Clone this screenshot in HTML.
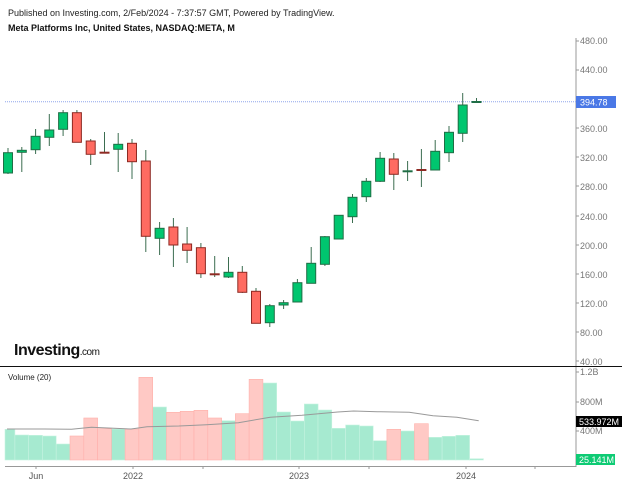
<!DOCTYPE html>
<html><head><meta charset="utf-8"><style>
html,body{margin:0;padding:0;background:#fff;width:622px;height:486px;overflow:hidden}
svg{display:block;font-family:"Liberation Sans",sans-serif}
</style></head><body>
<svg width="622" height="486" viewBox="0 0 622 486" xmlns="http://www.w3.org/2000/svg">
<text x="8" y="16" font-size="9" fill="#222">Published on Investing.com, 2/Feb/2024 - 7:37:57 GMT, Powered by TradingView.</text>
<text x="8" y="31" font-size="9" font-weight="bold" fill="#111">Meta Platforms Inc, United States, NASDAQ:META, M</text>
<!-- axes -->
<line x1="576" y1="38" x2="576" y2="467" stroke="#999" stroke-width="1"/>
<line x1="0" y1="366.5" x2="622" y2="366.5" stroke="#111" stroke-width="1"/>
<line x1="5" y1="466.5" x2="576" y2="466.5" stroke="#999" stroke-width="1"/>
<g font-size="9" fill="#777">
<text x="580" y="44">480.00</text><text x="580" y="73">440.00</text>
<text x="580" y="132">360.00</text><text x="580" y="161">320.00</text><text x="580" y="190">280.00</text>
<text x="580" y="220">240.00</text><text x="580" y="249">200.00</text><text x="580" y="278">160.00</text>
<text x="580" y="307">120.00</text><text x="580" y="336">80.00</text><text x="580" y="365">40.00</text>
<text x="580" y="375">1.2B</text><text x="580" y="405">800M</text><text x="580" y="434">400M</text>
</g>
<g stroke="#999"><line x1="576" y1="41" x2="579" y2="41"/><line x1="576" y1="70" x2="579" y2="70"/><line x1="576" y1="128" x2="579" y2="128"/><line x1="576" y1="157" x2="579" y2="157"/><line x1="576" y1="186" x2="579" y2="186"/><line x1="576" y1="216" x2="579" y2="216"/><line x1="576" y1="245" x2="579" y2="245"/><line x1="576" y1="274" x2="579" y2="274"/><line x1="576" y1="303" x2="579" y2="303"/><line x1="576" y1="332" x2="579" y2="332"/><line x1="576" y1="361" x2="579" y2="361"/><line x1="576" y1="372" x2="579" y2="372"/><line x1="576" y1="402" x2="579" y2="402"/><line x1="576" y1="431" x2="579" y2="431"/>
<line x1="36" y1="466" x2="36" y2="469"/><line x1="133" y1="466" x2="133" y2="469"/><line x1="203" y1="466" x2="203" y2="469"/><line x1="299" y1="466" x2="299" y2="469"/><line x1="369" y1="466" x2="369" y2="469"/><line x1="466" y1="466" x2="466" y2="469"/><line x1="535" y1="466" x2="535" y2="469"/></g>
<g font-size="9" fill="#555" text-anchor="middle"><text x="36" y="479">Jun</text><text x="133" y="479">2022</text><text x="299" y="479">2023</text><text x="466" y="479">2024</text></g>
<line x1="5" y1="101.7" x2="576" y2="101.7" stroke="#8fa6ec" stroke-width="1" stroke-dasharray="1,1"/>
<!-- candles -->
<g stroke="#3b6d50" stroke-width="1">
<line x1="8" y1="148" x2="8" y2="174"/><line x1="21.8" y1="147" x2="21.8" y2="172"/><line x1="35.6" y1="129" x2="35.6" y2="154"/><line x1="49.3" y1="114" x2="49.3" y2="146"/><line x1="63.1" y1="110" x2="63.1" y2="136"/><line x1="76.9" y1="110" x2="76.9" y2="142"/><line x1="90.7" y1="139" x2="90.7" y2="165"/><line x1="104.5" y1="132" x2="104.5" y2="153"/><line x1="118.2" y1="133" x2="118.2" y2="172"/><line x1="132" y1="139" x2="132" y2="179"/><line x1="145.8" y1="150" x2="145.8" y2="252"/><line x1="159.6" y1="222" x2="159.6" y2="255"/><line x1="173.4" y1="218" x2="173.4" y2="267"/><line x1="187.1" y1="227" x2="187.1" y2="263"/><line x1="200.9" y1="243" x2="200.9" y2="278"/><line x1="214.7" y1="256" x2="214.7" y2="277"/><line x1="228.5" y1="257" x2="228.5" y2="278"/><line x1="242.3" y1="266" x2="242.3" y2="293"/><line x1="256" y1="288" x2="256" y2="323"/><line x1="269.8" y1="304" x2="269.8" y2="327"/><line x1="283.6" y1="300" x2="283.6" y2="309"/><line x1="297.4" y1="279" x2="297.4" y2="302"/><line x1="311.2" y1="247" x2="311.2" y2="283"/><line x1="324.9" y1="236" x2="324.9" y2="266"/><line x1="338.7" y1="215" x2="338.7" y2="239"/><line x1="352.5" y1="194" x2="352.5" y2="223"/><line x1="366.3" y1="178" x2="366.3" y2="202"/><line x1="380.1" y1="152" x2="380.1" y2="182"/><line x1="393.8" y1="153" x2="393.8" y2="190"/><line x1="407.6" y1="161" x2="407.6" y2="181"/><line x1="421.4" y1="149" x2="421.4" y2="187"/><line x1="435.2" y1="140" x2="435.2" y2="170"/><line x1="449" y1="126" x2="449" y2="162"/><line x1="462.7" y1="93" x2="462.7" y2="142"/><line x1="476.5" y1="98" x2="476.5" y2="102"/>
</g>
<g fill="#00c66f" stroke="#1f6e45" stroke-width="1">
<rect x="3.5" y="152.7" width="9" height="20.3"/><rect x="17.3" y="150.3" width="9" height="2"/><rect x="31.1" y="136.3" width="9" height="13.4"/><rect x="44.8" y="130" width="9" height="7.3"/><rect x="58.6" y="112.7" width="9" height="16.6"/><rect x="113.7" y="144.3" width="9" height="5"/><rect x="155.1" y="228.3" width="9" height="10"/><rect x="224" y="272.3" width="9" height="4.7"/><rect x="265.3" y="305.7" width="9" height="17"/><rect x="279.1" y="302.7" width="9" height="2.3"/><rect x="292.9" y="282.7" width="9" height="19.3"/><rect x="306.7" y="263.3" width="9" height="20"/><rect x="320.4" y="236.7" width="9" height="27.6"/><rect x="334.2" y="215.3" width="9" height="23.7"/><rect x="348" y="197.3" width="9" height="19.4"/><rect x="361.8" y="181.3" width="9" height="15.4"/><rect x="375.6" y="158.3" width="9" height="23"/><rect x="403.1" y="170.8" width="9" height="1"/><rect x="430.7" y="151.3" width="9" height="18.7"/><rect x="444.5" y="132.3" width="9" height="20.4"/><rect x="458.2" y="105" width="9" height="28.3"/><rect x="472" y="101.5" width="9" height="1"/>
</g>
<g fill="#ff6b61" stroke="#8e2a23" stroke-width="1">
<rect x="72.4" y="112.7" width="9" height="29.6"/><rect x="86.2" y="141" width="9" height="13.3"/><rect x="100" y="152.2" width="9" height="1"/><rect x="127.5" y="143.3" width="9" height="18.4"/><rect x="141.3" y="161" width="9" height="75.3"/><rect x="168.9" y="227" width="9" height="18"/><rect x="182.6" y="244" width="9" height="6.3"/><rect x="196.4" y="247.7" width="9" height="26"/><rect x="210.2" y="273.8" width="9" height="1"/><rect x="237.8" y="272.3" width="9" height="20"/><rect x="251.5" y="291.3" width="9" height="32"/><rect x="389.3" y="159" width="9" height="15.3"/><rect x="416.9" y="169.5" width="9" height="1"/>
</g>
<rect x="576" y="96" width="40" height="12" fill="#4a78e6"/>
<text x="580" y="105.5" font-size="9" fill="#fff">394.78</text>
<!-- logo -->
<text x="14" y="355" font-size="16" font-weight="bold" fill="#111" letter-spacing="-0.5">Investing<tspan font-size="10" font-weight="normal">.com</tspan></text>
<!-- volume -->
<text x="8" y="380" font-size="8" fill="#222">Volume (20)</text>
<g fill="#a6ead0" stroke="#c8f3e1" stroke-width="0.6">
<rect x="5" y="429.3" width="9.9" height="30.7"/><rect x="14.9" y="435" width="13.8" height="25"/><rect x="28.7" y="435.3" width="13.8" height="24.7"/><rect x="42.4" y="436" width="13.8" height="24"/><rect x="56.2" y="444" width="13.8" height="16"/><rect x="111.3" y="429" width="13.8" height="31"/><rect x="152.7" y="407" width="13.8" height="53"/><rect x="221.6" y="420.7" width="13.8" height="39.3"/><rect x="262.9" y="383" width="13.8" height="77"/><rect x="276.7" y="412" width="13.8" height="48"/><rect x="290.5" y="421" width="13.8" height="39"/><rect x="304.3" y="404" width="13.8" height="56"/><rect x="318" y="410" width="13.8" height="50"/><rect x="331.8" y="428.3" width="13.8" height="31.7"/><rect x="345.6" y="425" width="13.8" height="35"/><rect x="359.4" y="426" width="13.8" height="34"/><rect x="373.2" y="440.7" width="13.8" height="19.3"/><rect x="400.7" y="431" width="13.8" height="29"/><rect x="428.3" y="437.3" width="13.8" height="22.7"/><rect x="442.1" y="436.3" width="13.8" height="23.7"/><rect x="455.8" y="435.3" width="13.8" height="24.7"/><rect x="469.6" y="458.7" width="13.8" height="1.3"/>
</g>
<g fill="#ffc9c5" stroke="#ffb0aa" stroke-width="0.6">
<rect x="70" y="436" width="13.8" height="24"/><rect x="83.8" y="418" width="13.8" height="42"/><rect x="97.6" y="428.7" width="13.8" height="31.3"/><rect x="125.1" y="429" width="13.8" height="31"/><rect x="138.9" y="377.3" width="13.8" height="82.7"/><rect x="166.5" y="412.3" width="13.8" height="47.7"/><rect x="180.2" y="411.3" width="13.8" height="48.7"/><rect x="194" y="410.3" width="13.8" height="49.7"/><rect x="207.8" y="418" width="13.8" height="42"/><rect x="235.4" y="413.7" width="13.8" height="46.3"/><rect x="249.1" y="379.3" width="13.8" height="80.7"/><rect x="386.9" y="429.3" width="13.8" height="30.7"/><rect x="414.5" y="423.7" width="13.8" height="36.3"/>
</g>
<polyline fill="none" stroke="#999" stroke-width="1" points="7,429 44,429 71.5,429.3 91.4,427.3 131.1,429 147,426.7 178.8,426 206.6,424.7 238.4,422.7 270.2,417.3 302,415.3 337.7,412 353.6,411 377.4,411.7 409.2,412.3 433,415.7 456.9,417.3 478.7,420.7"/>
<rect x="576" y="416" width="46" height="11" fill="#000"/>
<text x="579" y="425" font-size="9" fill="#fff">533.972M</text>
<rect x="576" y="454" width="39" height="11" fill="#0ecb74"/>
<text x="579" y="463" font-size="9" fill="#fff">25.141M</text>
</svg>
</body></html>
